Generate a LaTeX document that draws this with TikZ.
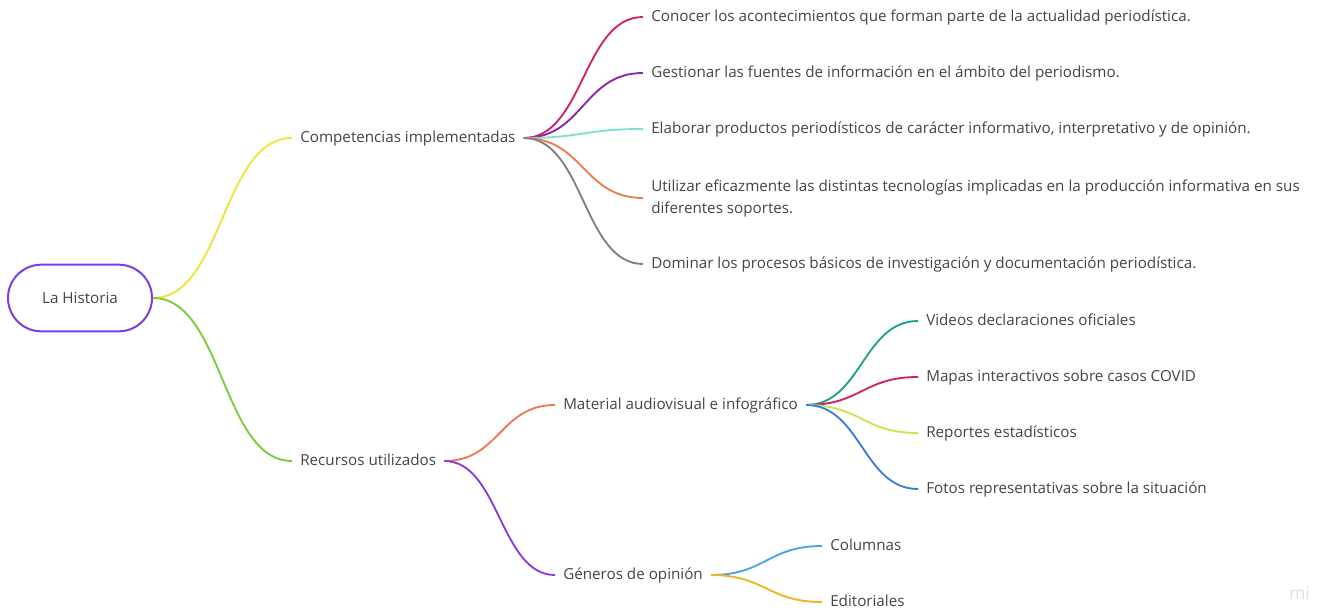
\documentclass[tikz,border=0pt]{standalone}
\usepackage{fontspec}
\setmainfont{Open Sans}
\usetikzlibrary{positioning}
\definecolor{txt}{HTML}{444444}
\definecolor{rootc}{HTML}{7B3FE0}
\definecolor{c_yellow}{HTML}{F0E43C}
\definecolor{c_green}{HTML}{7ACC3C}
\definecolor{c_crimson}{HTML}{D0216B}
\definecolor{c_purple}{HTML}{8E24AA}
\definecolor{c_aqua}{HTML}{7FE0D0}
\definecolor{c_orange}{HTML}{F07A50}
\definecolor{c_grey}{HTML}{808080}
\definecolor{c_violet}{HTML}{8A3BDB}
\definecolor{c_teal}{HTML}{1EA08A}
\definecolor{c_lime}{HTML}{CBE54A}
\definecolor{c_blue}{HTML}{3B7DDD}
\definecolor{c_sky}{HTML}{4BA3DD}
\definecolor{c_gold}{HTML}{F0B429}

\begin{document}
\begin{tikzpicture}[x=0.75pt,y=-0.75pt,
    topicbase/.style={anchor=west, inner xsep=6pt, inner ysep=0pt, text=txt, align=left,
      font=\fontsize{11.4}{16.5}\selectfont},
    topic/.style={topicbase, text height=0.86em, text depth=0.12em},
    root/.style={draw=rootc, line width=1.5pt, rounded corners=25pt, minimum width=108pt,
      minimum height=50pt, text=txt, text height=0.88em, text depth=0.08em,
      font=\fontsize{11.4}{12}\selectfont},
    branch/.style={line width=1.4pt}]
  \useasboundingbox (0,0) rectangle (1317,615);

  \node[root] (historia) at (80,298) {La Historia};

  \node[topic] (competencias) at (292,138) {Competencias implementadas};
  \node[topic] (recursos) at (292,461) {Recursos utilizados};

  \node[topic] (conocer) at (643,17) {Conocer los acontecimientos que forman parte de la actualidad periodística.};
  \node[topic] (gestionar) at (643,73) {Gestionar las fuentes de información en el ámbito del periodismo.};
  \node[topic] (elaborar) at (643,129) {Elaborar productos periodísticos de carácter informativo, interpretativo y de opinión.};
  \node[topicbase] (utilizar) at (643,198) {Utilizar eficazmente las distintas tecnologías implicadas en la producción informativa en sus\\diferentes soportes.};
  \node[topic] (dominar) at (643,264) {Dominar los procesos básicos de investigación y documentación periodística.};

  \node[topic] (material) at (555,405) {Material audiovisual e infográfico};
  \node[topic] (generos) at (555,575) {Géneros de opinión};

  \node[topic] (videos) at (918,321) {Videos declaraciones oficiales};
  \node[topic] (mapas) at (918,377) {Mapas interactivos sobre casos COVID};
  \node[topic] (reportes) at (918,433) {Reportes estadísticos};
  \node[topic] (fotos) at (918,489) {Fotos representativas sobre la situación};

  \node[topic] (columnas) at (822,546) {Columnas};
  \node[topic] (editoriales) at (822,602) {Editoriales};

  \node[anchor=west, inner sep=0pt, text=black!12, font=\fontsize{13}{13}\selectfont] (marca) at (1289,593) {mi};

  \draw[branch, c_yellow] (historia.east) .. controls +(70,0) and +(-70,0) .. (competencias.west);
  \draw[branch, c_green] (historia.east) .. controls +(70,0) and +(-70,0) .. (recursos.west);

  \draw[branch, c_crimson] (competencias.east) .. controls +(60,0) and +(-60,0) .. (conocer.west);
  \draw[branch, c_purple] (competencias.east) .. controls +(60,0) and +(-60,0) .. (gestionar.west);
  \draw[branch, c_aqua] (competencias.east) .. controls +(60,0) and +(-60,0) .. (elaborar.west);
  \draw[branch, c_orange] (competencias.east) .. controls +(60,0) and +(-60,0) .. (utilizar.west);
  \draw[branch, c_grey] (competencias.east) .. controls +(60,0) and +(-60,0) .. (dominar.west);

  \draw[branch, c_orange] (recursos.east) .. controls +(55,0) and +(-55,0) .. (material.west);
  \draw[branch, c_violet] (recursos.east) .. controls +(55,0) and +(-55,0) .. (generos.west);

  \draw[branch, c_teal] (material.east) .. controls +(55,0) and +(-55,0) .. (videos.west);
  \draw[branch, c_crimson] (material.east) .. controls +(55,0) and +(-55,0) .. (mapas.west);
  \draw[branch, c_lime] (material.east) .. controls +(55,0) and +(-55,0) .. (reportes.west);
  \draw[branch, c_blue] (material.east) .. controls +(55,0) and +(-55,0) .. (fotos.west);

  \draw[branch, c_sky] (generos.east) .. controls +(54,0) and +(-54,0) .. (columnas.west);
  \draw[branch, c_gold] (generos.east) .. controls +(54,0) and +(-54,0) .. (editoriales.west);
\end{tikzpicture}
\end{document}
